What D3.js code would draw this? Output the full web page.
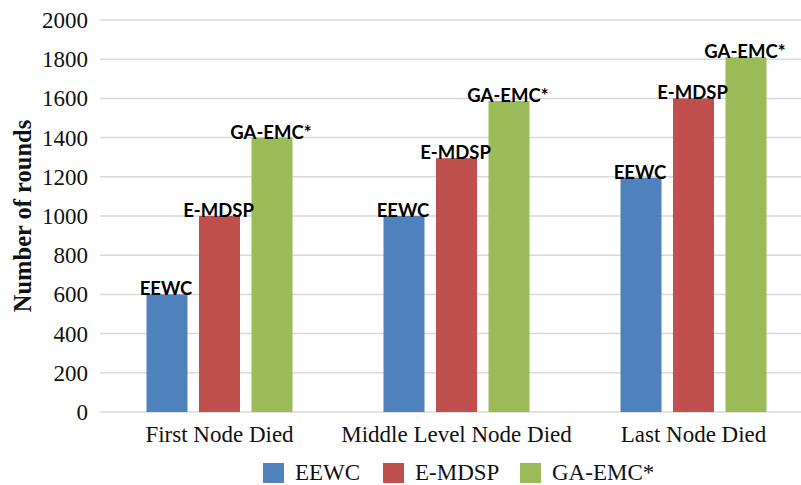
<!DOCTYPE html>
<html>
<head>
<meta charset="utf-8">
<script src="https://cdnjs.cloudflare.com/ajax/libs/d3/7.8.5/d3.min.js"></script>
<style>
  body { margin: 0; background: #fff; }
  svg { display: block; }
  .tick-label, .cat-label, .legend-text { font-family: "Liberation Serif", "DejaVu Serif", serif; font-size: 23px; fill: #111; }
  .axis-title { font-family: "Liberation Serif", serif; font-size: 24.5px; font-weight: bold; fill: #111; }
  .bar-label { font-family: Lato, "Liberation Sans", sans-serif; font-size: 18.5px; font-weight: bold; fill: #000; }
</style>
</head>
<body>
<div id="chart"></div>
<script>
var categories = ["First Node Died", "Middle Level Node Died", "Last Node Died"];
var seriesNames = ["EEWC", "E-MDSP", "GA-EMC*"];
var eewc = [600, 1000, 1195];
var emdsp = [1000, 1295, 1600];
var gaemc = [1400, 1587, 1810];
var yTicks = [0, 200, 400, 600, 800, 1000, 1200, 1400, 1600, 1800, 2000];
var colors = ["#4F81BD", "#C0504D", "#9BBB59"];

var WIDTH = 801, HEIGHT = 485;
var allSeries = [eewc, emdsp, gaemc];

var svg = d3.select("#chart").append("svg")
  .attr("width", WIDTH)
  .attr("height", HEIGHT);

var y = d3.scaleLinear().domain([0, 2000]).range([412, 20]);
var x0 = d3.scaleBand().domain(categories).range([101, 812]).padding(0);
var GROUP_W = 146;
var x1 = d3.scaleBand().domain(seriesNames).range([0, GROUP_W]).paddingInner(0.219);

// gridlines
svg.append("g").selectAll("line")
  .data(yTicks).enter()
  .append("line")
  .attr("x1", 100)
  .attr("x2", WIDTH)
  .attr("y1", function(d) { return y(d); })
  .attr("y2", function(d) { return y(d); })
  .attr("stroke", "#d9d9d9")
  .attr("stroke-width", 1.5);

// y tick labels
svg.append("g").selectAll("text")
  .data(yTicks).enter()
  .append("text")
  .attr("class", "tick-label")
  .attr("x", 88)
  .attr("y", function(d) { return y(d); })
  .attr("dy", "0.35em")
  .attr("text-anchor", "end")
  .text(function(d) { return d; });

// axis title
svg.append("text")
  .attr("class", "axis-title")
  .attr("transform", "translate(31,216) rotate(-90)")
  .attr("text-anchor", "middle")
  .text("Number of rounds");

// bars
var groups = svg.append("g").selectAll("g")
  .data(categories).enter()
  .append("g")
  .attr("transform", function(d) {
    return "translate(" + (x0(d) + (x0.bandwidth() - GROUP_W) / 2) + ",0)";
  });

groups.selectAll("rect")
  .data(function(d, i) {
    return seriesNames.map(function(s, j) { return {name: s, value: allSeries[j][i], j: j}; });
  }).enter()
  .append("rect")
  .attr("x", function(d) { return x1(d.name); })
  .attr("y", function(d) { return y(d.value); })
  .attr("width", x1.bandwidth())
  .attr("height", function(d) { return y(0) - y(d.value); })
  .attr("fill", function(d) { return colors[d.j]; });

groups.selectAll("text.bar-label")
  .data(function(d, i) {
    return seriesNames.map(function(s, j) { return {name: s, value: allSeries[j][i], j: j}; });
  }).enter()
  .append("text")
  .attr("class", "bar-label")
  .attr("x", function(d) { return x1(d.name) + x1.bandwidth() / 2 - 1; })
  .attr("y", function(d) { return y(d.value) + 1; })
  .attr("text-anchor", "middle")
  .text(function(d) { return d.name; });

// category labels
svg.append("g").selectAll("text")
  .data(categories).enter()
  .append("text")
  .attr("class", "cat-label")
  .attr("x", function(d) { return x0(d) + x0.bandwidth() / 2; })
  .attr("y", 442)
  .attr("text-anchor", "middle")
  .text(function(d) { return d; });

// legend
var legendX = [263, 383, 520];
var legend = svg.append("g").selectAll("g")
  .data(seriesNames).enter()
  .append("g")
  .attr("transform", function(d, i) { return "translate(" + legendX[i] + ",463)"; });
legend.append("rect")
  .attr("width", 21)
  .attr("height", 20)
  .attr("fill", function(d, i) { return colors[i]; });
legend.append("text")
  .attr("class", "legend-text")
  .attr("x", 32)
  .attr("y", 17)
  .text(function(d) { return d; });
</script>
</body>
</html>
